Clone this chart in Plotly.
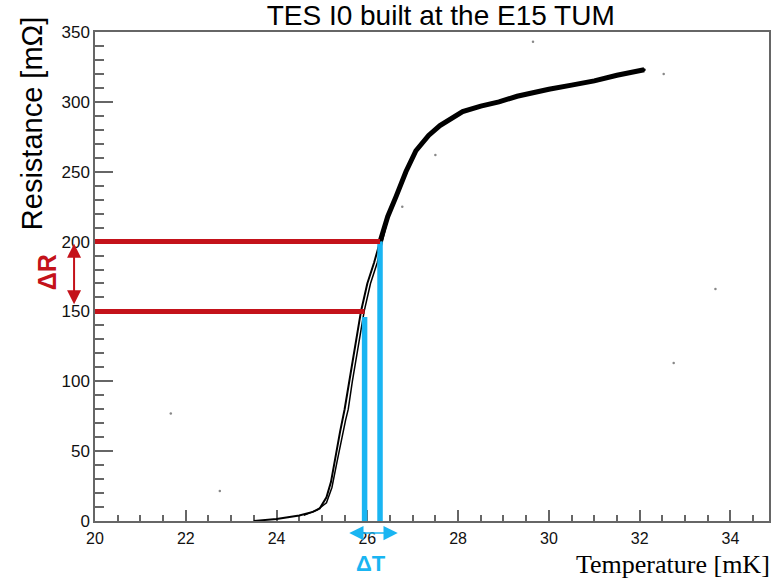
import plotly.graph_objects as go

# Superconducting transition of the TES: resistance vs. bath temperature
# rising branch through the transition
T_rise = [23.5, 24.0, 24.5, 24.8, 24.95, 25.1, 25.2, 25.3, 25.4, 25.5, 25.6, 25.73, 25.86, 26.0, 26.15, 26.29]
R_rise = [0, 1.5, 4, 6.5, 9, 17, 28, 47, 64, 80, 100, 125, 150, 170, 185, 201]
# returning branch (hysteresis) through the transition
T_ret = [24.6, 24.9, 25.1, 25.22, 25.33, 25.45, 25.52, 25.58, 25.67, 25.8, 25.93, 26.07, 26.22, 26.33, 26.45]
R_ret = [4, 8, 13, 24, 42, 62, 72, 80, 100, 125, 150, 170, 185, 200, 216]
# upper part of the transition and normal-conducting region
T_norm = [26.29, 26.45, 26.63, 26.85, 27.07, 27.35, 27.6, 27.8, 28.1, 28.5, 28.9, 29.3, 29.7, 30.0, 30.5, 31.0, 31.5, 31.8, 32.1]
R_norm = [201, 218, 232, 250, 265, 276, 283, 287, 293, 297, 300, 304, 307, 309, 312, 315, 319, 321, 323]
# isolated stray readings
T_stray = [21.67, 22.75, 26.77, 27.5, 29.65, 32.53, 32.75, 33.67]
R_stray = [77, 21.5, 225, 262, 343, 320, 113, 166]

# working window on the transition
R_lo, R_hi = 150, 200
T_lo, T_hi = 25.94, 26.28

RED = "#c4121a"
BLUE = "#19b5f2"
AX = "#666666"

fig = go.Figure()

fig.add_trace(go.Scatter(x=T_ret, y=R_ret, mode="lines",
                         line=dict(color="black", width=1.5), hoverinfo="skip"))
fig.add_trace(go.Scatter(x=T_rise, y=R_rise, mode="lines",
                         line=dict(color="black", width=2), hoverinfo="skip"))
fig.add_trace(go.Scatter(x=T_norm, y=R_norm, mode="lines+markers",
                         line=dict(color="black", width=5),
                         marker=dict(color="black", size=3), hoverinfo="skip"))
fig.add_trace(go.Scatter(x=T_stray, y=R_stray, mode="markers",
                         marker=dict(color="#888888", size=2.5), hoverinfo="skip"))

# blue vertical markers of the temperature window
fig.add_trace(go.Scatter(x=[T_lo, T_lo], y=[0, R_lo - 4], mode="lines",
                         line=dict(color=BLUE, width=5.5), hoverinfo="skip"))
fig.add_trace(go.Scatter(x=[T_hi, T_hi], y=[0, R_hi], mode="lines",
                         line=dict(color=BLUE, width=5.5), hoverinfo="skip"))
# red horizontal markers of the resistance window
fig.add_trace(go.Scatter(x=[20, T_lo], y=[R_lo, R_lo], mode="lines",
                         line=dict(color=RED, width=5), hoverinfo="skip"))
fig.add_trace(go.Scatter(x=[20, T_hi], y=[R_hi, R_hi], mode="lines",
                         line=dict(color=RED, width=5), hoverinfo="skip"))

PL, PR, PT, PB = 95, 3, 32, 57
W, H = 774, 578
pw, ph = W - PL - PR, H - PT - PB


def px_x(p):
    return (p - PL) / pw


def px_y(p):
    return (H - PB - p) / ph


annotations = [
    dict(text="Resistance [mΩ]", xref="paper", yref="paper", x=px_x(32), y=px_y(124),
         xanchor="center", yanchor="middle", textangle=-90, showarrow=False,
         font=dict(family="Liberation Sans", size=29, color="black")),
    dict(text="Temperature [mK]", xref="paper", yref="paper", x=px_x(774), y=px_y(564),
         xanchor="right", yanchor="middle", showarrow=False,
         font=dict(family="Liberation Serif", size=26, color="black")),
    dict(text="<b>ΔR</b>", xref="paper", yref="paper", x=px_x(47), y=px_y(272),
         xanchor="center", yanchor="middle", textangle=-90, showarrow=False,
         font=dict(family="Liberation Sans", size=25, color=RED)),
    dict(text="", xref="paper", yref="y", x=px_x(74), y=R_hi - 1.5,
         ax=0, ay=62, axref="pixel", ayref="pixel", showarrow=True,
         arrowside="end+start", arrowhead=2, startarrowhead=2,
         arrowwidth=2, arrowsize=1.4, startarrowsize=1.4, arrowcolor=RED),
    dict(text="<b>ΔT</b>", xref="x", yref="paper", x=(T_lo + T_hi) / 2 - 0.03, y=px_y(563),
         xanchor="center", yanchor="middle", showarrow=False,
         font=dict(family="Liberation Sans", size=22, color=BLUE)),
    dict(text="", xref="paper", yref="paper", x=px_x(350), y=px_y(533),
         ax=50, ay=0, axref="pixel", ayref="pixel", showarrow=True,
         arrowside="end+start", arrowhead=2, startarrowhead=2,
         arrowwidth=1.5, arrowsize=1.9, startarrowsize=1.9, arrowcolor=BLUE),
]

fig.update_layout(
    width=W, height=H,
    margin=dict(l=PL, r=PR, t=PT, b=PB),
    paper_bgcolor="white", plot_bgcolor="white",
    showlegend=False,
    title=dict(text="TES I0 built at the E15 TUM", x=397 / W, xanchor="center",
               xref="paper", yref="container", y=1 - 15 / H, yanchor="middle",
               font=dict(family="Liberation Sans", size=28, color="black")),
    annotations=annotations,
    xaxis=dict(range=[20, 34.85], dtick=2, tick0=20, ticks="inside", ticklen=11,
               tickwidth=1.5, tickcolor=AX, showline=True, linecolor=AX, linewidth=1.5,
               mirror=True, showgrid=False, zeroline=False, layer="below traces",
               tickfont=dict(family="Liberation Sans", size=16, color="#111111"),
               ticklabelstandoff=2,
               minor=dict(dtick=0.5, ticks="inside", ticklen=6, tickwidth=1.5,
                          tickcolor=AX, showgrid=False)),
    yaxis=dict(range=[0, 350], dtick=50, tick0=0, ticks="inside", ticklen=18,
               tickwidth=1.5, tickcolor=AX, showline=True, linecolor=AX, linewidth=1.5,
               mirror=True, showgrid=False, zeroline=False, layer="below traces",
               tickfont=dict(family="Liberation Sans", size=17, color="#111111"),
               minor=dict(dtick=10, ticks="inside", ticklen=9, tickwidth=1.5,
                          tickcolor=AX, showgrid=False)),
)

fig.write_html("out.html")
